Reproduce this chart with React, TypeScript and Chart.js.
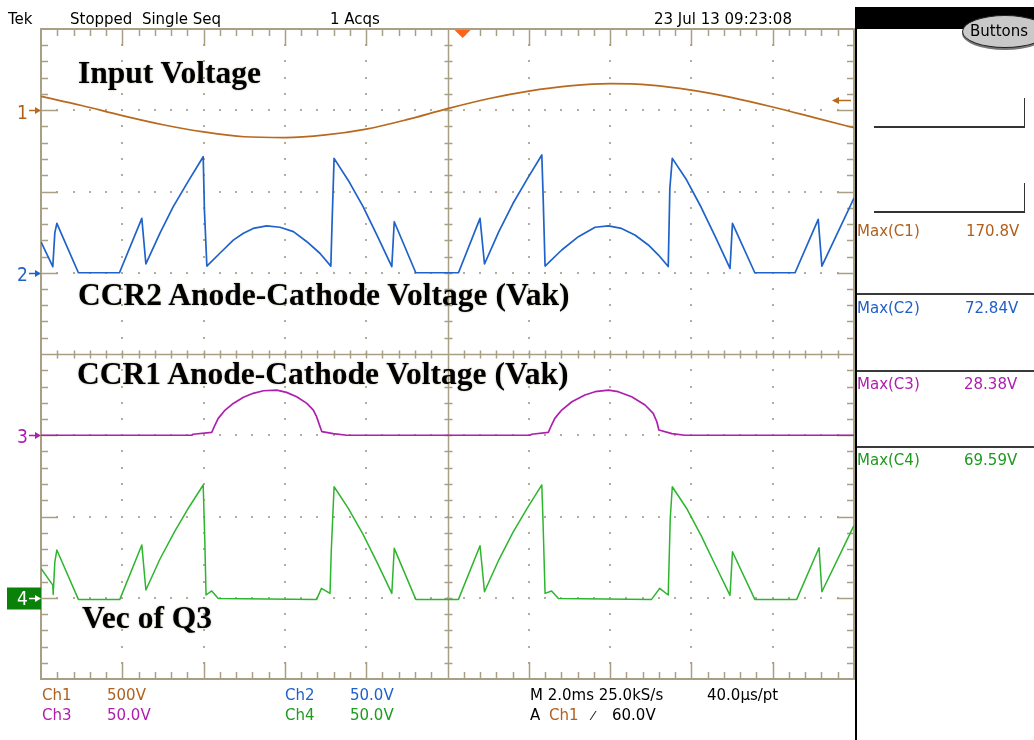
import React, { useEffect, useRef } from 'react';
import { Chart, registerables } from 'chart.js';
Chart.register(...registerables);

// ---- data (time in ms across 10 divisions of 2 ms, values in volts) ----
const ch1Time = [0, 1, 2, 3, 4, 5, 6, 7, 8, 9, 10, 11, 12, 13, 14, 15, 16, 17, 18, 19, 20];
const ch1Volts = [86, 29, -33, -89, -133, -163, -168, -152, -116, -58, 10, 71, 118, 150, 164, 155, 124, 78, 20, -44, -108];

const ch2Time = [0, 0.29, 0.34, 0.39, 0.92, 1.93, 2.48, 2.58, 2.93, 3.25, 3.62, 3.99, 4.02, 4.08,
  4.4, 4.73, 4.98, 5.22, 5.55, 5.88, 6.21, 6.54, 6.86, 7.13, 7.16, 7.21, 7.56, 7.92, 8.27, 8.63, 8.69, 9.22,
  10.27, 10.8, 10.91, 11.26, 11.61, 11.97, 12.32, 12.35, 12.4,
  12.81, 13.22, 13.63, 13.96, 14.28, 14.61, 14.94, 15.19, 15.43, 15.47, 15.53, 15.88, 16.24, 16.59, 16.95, 17.01, 17.56,
  18.55, 19.12, 19.21, 20];
const ch2Volts = [19, 3.7, 24.5, 30.4, 0, 0, 33.5, 5.4, 24.6, 40.5, 56.2, 71.4, 38.8, 4.1,
  12, 20.1, 24.3, 27.3, 28.8, 28, 25.3, 19.1, 12, 4.1, 30.6, 70.4, 56.8, 40.8, 22.9, 3.8, 31.4, 0,
  0, 33.5, 5.4, 25.2, 42.6, 58.1, 72.5, 49, 4.1,
  14, 22.2, 28, 28.8, 27.3, 23.2, 17.1, 10.9, 3.8, 52, 70.4, 57.2, 40.3, 22.1, 2.7, 30.4, 0,
  0, 32.9, 4.1, 46];

const ch3Time = [0, 3.71, 3.74, 4.2, 4.28, 4.36, 4.53, 4.73, 4.98, 5.22, 5.47, 5.8, 6.04, 6.29, 6.54, 6.7, 6.78, 6.85, 6.91, 7.19, 7.52,
  12.03, 12.07, 12.48, 12.56, 12.64, 12.81, 13.06, 13.38, 13.63, 13.96, 14.2, 14.53, 14.86, 15.06, 15.15, 15.2, 15.52, 15.84, 20];
const ch3Volts = [0, 0, 0.6, 1.8, 6.3, 10.4, 15.5, 19.6, 23.4, 25.8, 27.4, 27.8, 26.4, 23.7, 19.6, 15.5, 11.4, 6.3, 2.2, 1, 0,
  0, 0.6, 1.8, 6.3, 10.4, 15.5, 20.6, 24.8, 26.8, 27.8, 26.8, 23.7, 18.6, 13.5, 8.3, 3.2, 1, 0, 0];

const ch4Time = [0, 0.29, 0.3, 0.34, 0.39, 0.92, 1.94, 2.48, 2.58, 2.93, 3.29, 3.64, 3.99, 4.03, 4.06, 4.2, 4.36,
  6.78, 6.9, 7.11, 7.14, 7.21, 7.56, 7.92, 8.27, 8.63, 8.69, 9.22,
  10.27, 10.8, 10.91, 11.26, 11.61, 11.97, 12.32, 12.35, 12.4, 12.56, 12.73,
  15.02, 15.22, 15.43, 15.48, 15.53, 15.88, 16.24, 16.59, 16.95, 17.01, 17.56,
  18.59, 19.14, 19.21, 20];
const ch4Volts = [18, 7.8, 2, 22, 29.4, -1, -1, 32.5, 4.8, 24, 40.8, 55.7, 69.4, 34.7, 1.7, 4.2, -0.5,
  -1, 5.8, 2.7, 28.5, 68.3, 55, 39.2, 21.6, 2.7, 30.4, -1,
  -1, 32, 3.7, 23.2, 40.2, 55.4, 69.4, 46.8, 2.7, 4.2, -0.5,
  -1, 5.8, 1.7, 49, 68.3, 55.1, 38.2, 20, 1.5, 28.3, -1,
  -1, 30.8, 3.7, 44.5];

const voltsPerDiv = [500, 50, 50, 50];
const groundDiv = [3, 1, -1, -3];
const triggerLevel = 60;
const triggerTime = 10.37;

const C1 = '#b8691e';
const C2 = '#1f62c9';
const C3 = '#ad1fad';
const C4 = '#2db52d';
const T1 = '#b0601e';
const T2 = '#2060c8';
const T3 = '#b01cb0';
const T4 = '#1e9a1e';
const GRID = '#a99f84';
const DOT = '#b5ad95';
const CH_COLORS = [C1, C2, C3, C4];

const graticule = {
  id: 'graticule',
  beforeDatasetsDraw(chart: any) {
    const { ctx, chartArea: a, scales } = chart;
    const xs = scales.x;
    const ys = scales.y;
    ctx.save();
    ctx.fillStyle = DOT;
    for (let i = 1; i < 10; i++) {
      if (i === 5) continue;
      const px = Math.round(xs.getPixelForValue(i * 2));
      for (let k = 1; k < 40; k++) {
        const py = Math.round(ys.getPixelForValue(-4 + k * 0.2));
        ctx.fillRect(px - 1, py - 1, 2, 2);
      }
    }
    for (let j = -3; j <= 3; j++) {
      if (j === 0) continue;
      const py = Math.round(ys.getPixelForValue(j));
      for (let k = 1; k < 50; k++) {
        const px = Math.round(xs.getPixelForValue(k * 0.4));
        ctx.fillRect(px - 1, py - 1, 2, 2);
      }
    }
    ctx.strokeStyle = GRID;
    ctx.lineWidth = 2;
    ctx.strokeRect(a.left, a.top, a.right - a.left, a.bottom - a.top);
    ctx.lineWidth = 1.5;
    ctx.beginPath();
    const cx = Math.round(xs.getPixelForValue(10)) + 0.5;
    const cy = Math.round(ys.getPixelForValue(0)) + 0.5;
    for (let k = 1; k < 50; k++) {
      const px = Math.round(xs.getPixelForValue(k * 0.4)) + 0.5;
      const L = k % 5 === 0 ? 17 : 7;
      ctx.moveTo(px, a.top); ctx.lineTo(px, a.top + L);
      ctx.moveTo(px, a.bottom); ctx.lineTo(px, a.bottom - L);
      ctx.moveTo(px, cy - 4); ctx.lineTo(px, cy + 4);
    }
    for (let k = 1; k < 40; k++) {
      const py = Math.round(ys.getPixelForValue(-4 + k * 0.2)) + 0.5;
      const L = k % 5 === 0 ? 17 : 7;
      ctx.moveTo(a.left, py); ctx.lineTo(a.left + L, py);
      ctx.moveTo(a.right, py); ctx.lineTo(a.right - L, py);
      ctx.moveTo(cx - 4, py); ctx.lineTo(cx + 4, py);
    }
    ctx.moveTo(a.left, cy); ctx.lineTo(a.right, cy);
    ctx.moveTo(cx, a.top); ctx.lineTo(cx, a.bottom);
    ctx.stroke();
    ctx.restore();
  },
  afterDatasetsDraw(chart: any) {
    const { ctx, chartArea: a, scales } = chart;
    const xs = scales.x;
    const ys = scales.y;
    ctx.save();
    groundDiv.forEach((g, i) => {
      const py = Math.round(ys.getPixelForValue(g)) + 0.5;
      let col = CH_COLORS[i];
      if (i === 3) {
        ctx.fillStyle = '#0a820a';
        ctx.fillRect(7, py - 11, a.left - 7, 22);
        col = '#ffffff';
      }
      ctx.strokeStyle = col;
      ctx.fillStyle = col;
      ctx.lineWidth = 1.5;
      ctx.beginPath();
      ctx.moveTo(29, py); ctx.lineTo(37, py);
      ctx.stroke();
      ctx.beginPath();
      ctx.moveTo(a.left, py); ctx.lineTo(a.left - 6, py - 3.5); ctx.lineTo(a.left - 6, py + 3.5);
      ctx.closePath();
      ctx.fill();
    });
    const ty = Math.round(ys.getPixelForValue(groundDiv[0] + triggerLevel / voltsPerDiv[0])) + 0.5;
    ctx.strokeStyle = C1; ctx.fillStyle = C1; ctx.lineWidth = 1.5;
    ctx.beginPath(); ctx.moveTo(a.right - 20, ty); ctx.lineTo(a.right - 3, ty); ctx.stroke();
    ctx.beginPath(); ctx.moveTo(a.right - 22, ty); ctx.lineTo(a.right - 15, ty - 3.5); ctx.lineTo(a.right - 15, ty + 3.5); ctx.closePath(); ctx.fill();
    const tx = xs.getPixelForValue(triggerTime);
    ctx.fillStyle = '#ff6418';
    ctx.beginPath(); ctx.moveTo(tx - 8, a.top + 1); ctx.lineTo(tx + 8, a.top + 1); ctx.lineTo(tx, a.top + 9); ctx.closePath(); ctx.fill();
    ctx.restore();
  },
};

const SANS = '"DejaVu Sans", sans-serif';
const SERIF = '"Liberation Serif", "Times New Roman", serif';
const NARROW = '"Liberation Sans Narrow", "DejaVu Sans Condensed", sans-serif';

function Txt(props: any) {
  const { x, b, size = 15, color = '#000', family = SANS, weight = 400, ratio = 0.846, ls = 0, shadow, children } = props;
  return (
    <div
      style={{
        position: 'absolute', left: x, top: b - ratio * size, fontSize: size, lineHeight: `${size}px`,
        color, fontFamily: family, fontWeight: weight, whiteSpace: 'pre', letterSpacing: ls, textShadow: shadow,
      }}
    >
      {children}
    </div>
  );
}

function Label(props: any) {
  return (
    <Txt x={props.x} b={props.b} size={31.5} family={SERIF} weight={700} ratio={0.8375}
      shadow="0 0 2px rgba(90,80,40,0.45)">{props.children}</Txt>
  );
}

export default function App() {
  const ref = useRef<HTMLCanvasElement>(null);
  useEffect(() => {
    document.body.style.margin = '0';
    document.body.style.overflow = 'hidden';
    const mk = (T: number[], V: number[], ch: number) =>
      T.map((t, i) => ({ x: t, y: V[i] / voltsPerDiv[ch] + groundDiv[ch] }));
    const chart = new Chart(ref.current as HTMLCanvasElement, {
      type: 'line',
      data: {
        datasets: [
          { data: mk(ch1Time, ch1Volts, 0), borderColor: C1, borderWidth: 1.7, cubicInterpolationMode: 'monotone', tension: 0.4 } as any,
          { data: mk(ch2Time, ch2Volts, 1), borderColor: C2, borderWidth: 1.7, tension: 0 },
          { data: mk(ch3Time, ch3Volts, 2), borderColor: C3, borderWidth: 1.7, tension: 0 },
          { data: mk(ch4Time, ch4Volts, 3), borderColor: C4, borderWidth: 1.5, tension: 0 },
        ],
      },
      options: {
        animation: false,
        responsive: false,
        maintainAspectRatio: false,
        events: [],
        layout: { padding: { left: 41, top: 29, right: 180, bottom: 61 } },
        elements: { point: { radius: 0 }, line: { borderJoinStyle: 'round', fill: false } },
        scales: {
          x: { type: 'linear', min: 0, max: 20, display: false },
          y: { type: 'linear', min: -4, max: 4, display: false },
        },
        plugins: { legend: { display: false }, tooltip: { enabled: false }, title: { display: false } },
      },
      plugins: [graticule],
    });
    return () => chart.destroy();
  }, []);

  return (
    <div style={{ position: 'absolute', left: 0, top: 0, width: 1034, height: 740, background: '#fff', overflow: 'hidden' }}>
      <canvas ref={ref} width={1034} height={740} style={{ position: 'absolute', left: 0, top: 0, width: 1034, height: 740 }} />

      <Txt x={8} b={25}>Tek</Txt>
      <Txt x={70} b={25}>Stopped  Single Seq</Txt>
      <Txt x={330} b={25}>1 Acqs</Txt>
      <Txt x={654} b={25}>23 Jul 13 09:23:08</Txt>

      <Label x={78} b={83.5}>Input Voltage</Label>
      <Label x={78} b={305}>CCR2 Anode-Cathode Voltage (Vak)</Label>
      <Label x={77} b={384}>CCR1 Anode-Cathode Voltage (Vak)</Label>
      <Label x={82} b={628}>Vec of Q3</Label>

      <Txt x={17} b={119} size={19} family={NARROW} color={T1}>1</Txt>
      <Txt x={17} b={281} size={19} family={NARROW} color={T2}>2</Txt>
      <Txt x={17} b={443} size={19} family={NARROW} color={T3}>3</Txt>
      <Txt x={17} b={605} size={19} family={NARROW} color="#ffffff">4</Txt>

      <Txt x={42} b={701} color={T1}>Ch1</Txt>
      <Txt x={107} b={701} color={T1}>500V</Txt>
      <Txt x={285} b={701} color={T2}>Ch2</Txt>
      <Txt x={350} b={701} color={T2}>50.0V</Txt>
      <Txt x={42} b={721} color={T3}>Ch3</Txt>
      <Txt x={107} b={721} color={T3}>50.0V</Txt>
      <Txt x={285} b={721} color={T4}>Ch4</Txt>
      <Txt x={350} b={721} color={T4}>50.0V</Txt>
      <Txt x={530} b={701}>M 2.0ms 25.0kS/s</Txt>
      <Txt x={707} b={701}>40.0µs/pt</Txt>
      <Txt x={530} b={721}>A</Txt>
      <Txt x={549} b={721} color={T1}>Ch1</Txt>
      <Txt x={592} b={720} size={13}>⁄</Txt>
      <Txt x={612} b={721}>60.0V</Txt>

      <div style={{ position: 'absolute', left: 855, top: 7, width: 179, height: 22, background: '#000' }} />
      <div style={{ position: 'absolute', left: 855, top: 29, width: 2, height: 711, background: '#000' }} />
      <div style={{
        position: 'absolute', left: 962, top: 15, width: 84, height: 31, background: '#c9c9c9',
        border: '1.5px solid #222', borderRadius: '50%', boxShadow: '0 2px 0 #777',
      }} />
      <Txt x={970} b={37}>Buttons</Txt>

      <div style={{ position: 'absolute', left: 874, top: 126, width: 151, height: 1.5, background: '#333' }} />
      <div style={{ position: 'absolute', left: 1023.5, top: 98, width: 1.5, height: 29.5, background: '#333' }} />
      <div style={{ position: 'absolute', left: 874, top: 211, width: 151, height: 1.5, background: '#333' }} />
      <div style={{ position: 'absolute', left: 1023.5, top: 183, width: 1.5, height: 29.5, background: '#333' }} />

      <Txt x={857} b={237} color={T1}>Max(C1)</Txt>
      <Txt x={966} b={237} color={T1}>170.8V</Txt>
      <div style={{ position: 'absolute', left: 857, top: 293, width: 177, height: 2, background: '#3a3a3a' }} />
      <Txt x={857} b={314} color={T2}>Max(C2)</Txt>
      <Txt x={965} b={314} color={T2}>72.84V</Txt>
      <div style={{ position: 'absolute', left: 857, top: 370, width: 177, height: 2, background: '#3a3a3a' }} />
      <Txt x={857} b={390} color={T3}>Max(C3)</Txt>
      <Txt x={964} b={390} color={T3}>28.38V</Txt>
      <div style={{ position: 'absolute', left: 857, top: 446, width: 177, height: 2, background: '#3a3a3a' }} />
      <Txt x={857} b={466} color={T4}>Max(C4)</Txt>
      <Txt x={964} b={466} color={T4}>69.59V</Txt>
    </div>
  );
}
